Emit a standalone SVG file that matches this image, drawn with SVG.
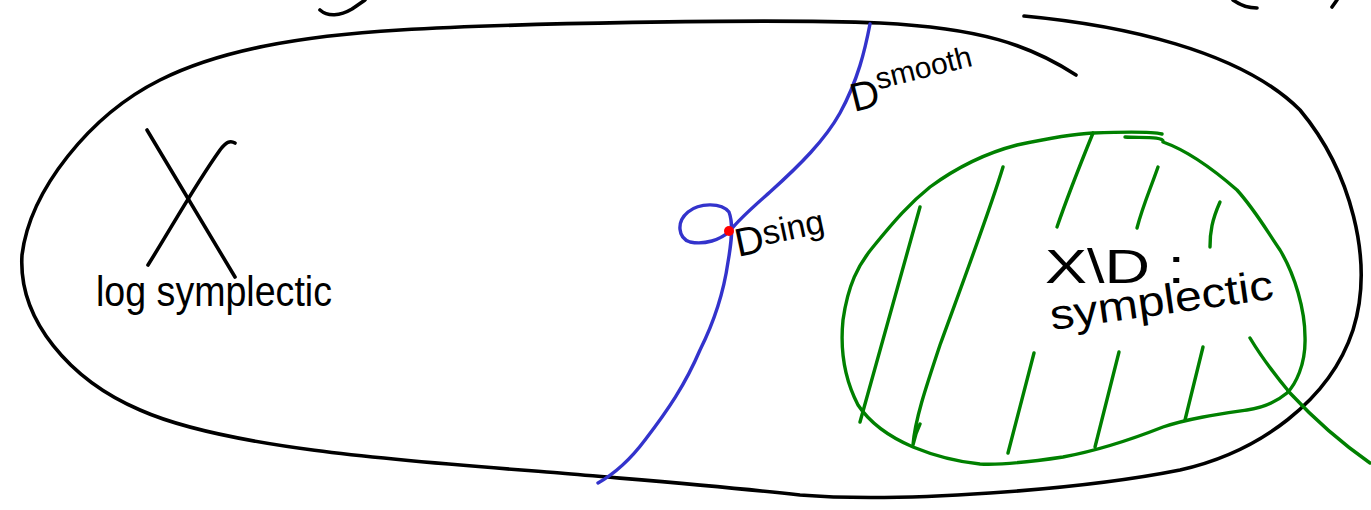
<svg xmlns="http://www.w3.org/2000/svg" width="1371" height="510" viewBox="0 0 1371 510">
<style>
.ink{fill:none;stroke:#000;stroke-width:3.6;stroke-linecap:round;stroke-linejoin:round}
.blue{fill:none;stroke:#3333cc;stroke-width:3.4;stroke-linecap:round;stroke-linejoin:round}
.green{fill:none;stroke:#008000;stroke-width:3.4;stroke-linecap:round;stroke-linejoin:round}
.t{font-family:"Liberation Sans","DejaVu Sans",sans-serif;fill:#000}
</style>
<rect width="1371" height="510" fill="#fff"/>
<g id="outer-region">
<path class="ink" d="M1076,75 C1030,45 980,28 880,23 C760,18 500,24 400,30 C300,36 220,50 160,80 C90,115 30,190 22,255 C18,320 70,380 140,410 C230,450 420,462 560,473 C640,480 720,486 800,495 C900,503 1080,490 1180,470 C1260,452 1330,400 1353,330 C1375,260 1350,170 1300,110 C1240,50 1120,25 1024,16"/>
<path class="ink" d="M320,10 C328,17 340,16 352,9 C358,5 362,2 365,0"/>
<path class="ink" d="M1233,0 C1240,5 1248,8 1257,8"/>
<path class="ink" d="M1332,7 L1337,0"/>
</g>
<g id="log-symplectic">
<path class="ink" d="M147,130 L235,277"/>
<path class="ink" d="M235,143 C230,140 226,142 220,150 C195,185 170,230 148,265"/>
<text class="t" x="96" y="306" font-size="42" textLength="236" lengthAdjust="spacingAndGlyphs">log symplectic</text>
</g>
<g id="divisor">
<path class="blue" d="M870,24 C865,50 858,80 840,113 C825,140 800,165 770,192 C752,208 738,220 730,231 C720,240 705,245 690,242 C678,238 676,222 688,212 C700,202 722,203 729,212 C734,225 731,245 728,262 C724,290 715,320 700,350 C685,385 668,410 645,440 C630,460 614,474 598,483"/>
<circle cx="729" cy="231" r="5" fill="#ff0000"/>
<text class="t" x="0" y="0" font-size="40" transform="translate(854,112) rotate(-14)">D<tspan font-size="30" dy="-16">smooth</tspan></text>
<text class="t" x="0" y="0" font-size="40" transform="translate(738,257) rotate(-12)">D<tspan font-size="34" dy="-6">sing</tspan></text>
</g>
<g id="symplectic-region">
<path class="green" d="M1125,137 C1140,138 1165,136 1163,142 C1180,148 1205,162 1237,190 C1255,210 1265,228 1280,250 C1295,275 1305,310 1305,337 C1306,365 1295,385 1287,393 C1275,403 1262,408 1247,410 C1220,414 1190,418 1163,427 C1130,440 1090,452 1063,457 C1030,462 1000,465 980,464 C950,461 930,454 913,447 C885,435 868,420 858,405 C845,380 840,350 843,320 C848,285 858,265 873,247 C895,220 910,203 930,187 C960,165 990,152 1017,145 C1045,139 1070,134 1093,133 C1120,132 1150,131 1162,134"/>
<path class="green" d="M920,207 L860,422"/>
<path class="green" d="M1003,167 C990,210 960,290 940,345 C925,390 915,420 913,445 C915,435 918,428 920,424"/>
<path class="green" d="M1093,133 C1080,165 1068,195 1057,227"/>
<path class="green" d="M1158,167 C1150,190 1143,205 1137,228"/>
<path class="green" d="M1220,202 C1212,220 1210,232 1210,247"/>
<path class="green" d="M1034,353 L1008,453"/>
<path class="green" d="M1119,352 L1095,447"/>
<path class="green" d="M1203,347 L1185,420"/>
<path class="green" d="M1250,338 C1262,358 1275,375 1290,393 C1315,420 1340,442 1370,463"/>
<text class="t" x="1045" y="283" font-size="48" textLength="140" lengthAdjust="spacingAndGlyphs">X\D :</text>
<text class="t" x="0" y="0" font-size="42" textLength="225" lengthAdjust="spacingAndGlyphs" transform="translate(1052,330) rotate(-8)">symplectic</text>
</g>
</svg>
